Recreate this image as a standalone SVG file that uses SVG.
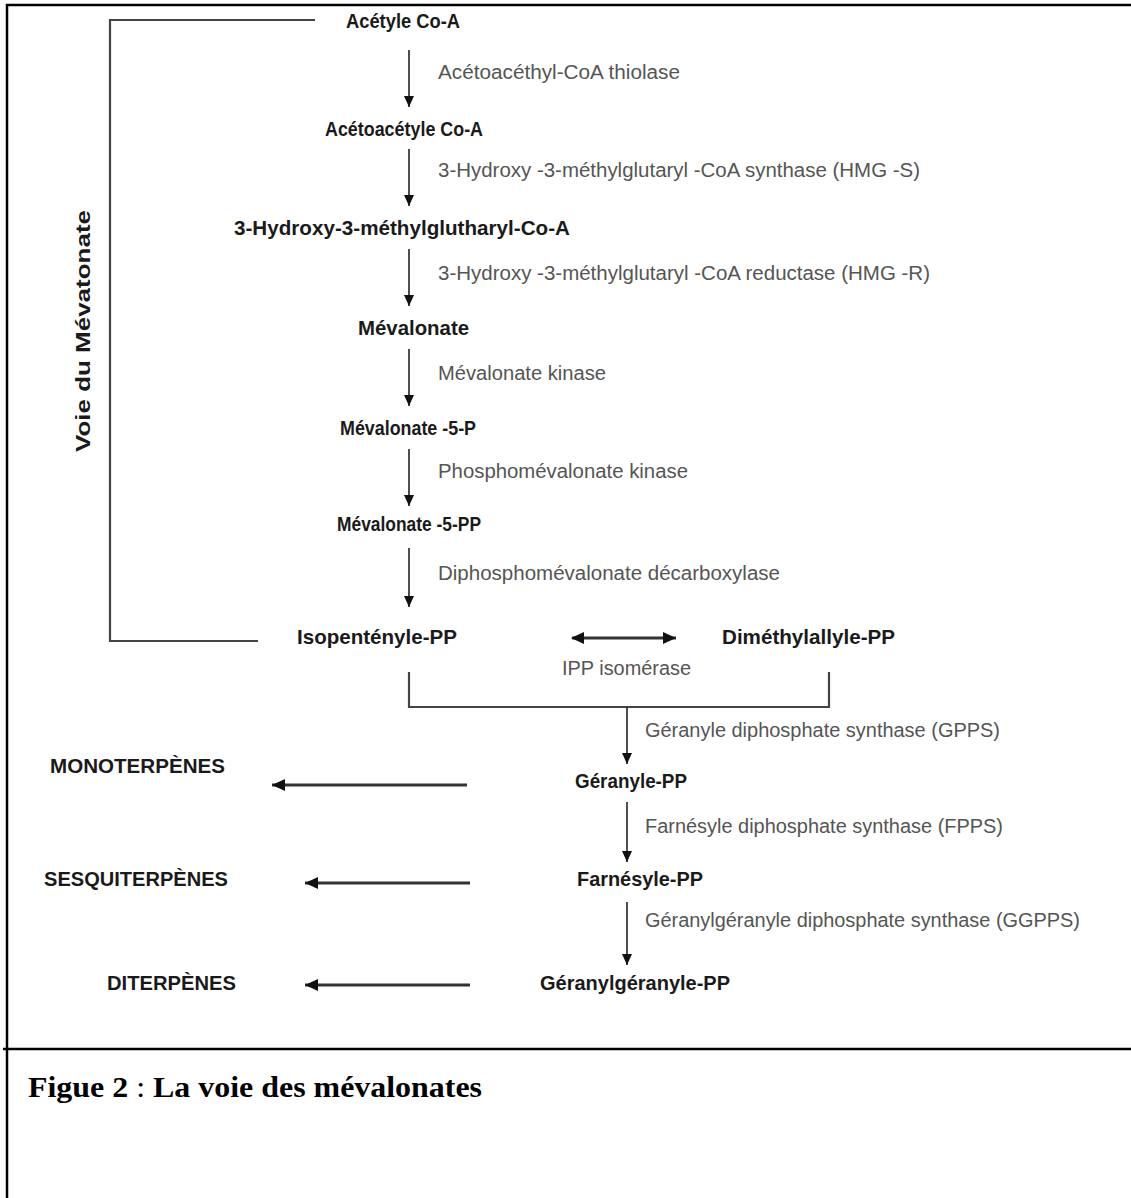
<svg xmlns="http://www.w3.org/2000/svg" width="1131" height="1198" viewBox="0 0 1131 1198">
<style>
.node{font-family:"Liberation Sans",Arial,sans-serif;font-weight:bold;font-size:21px;fill:#1a1a1a;}
.enz{font-family:"Liberation Sans",Arial,sans-serif;font-size:19.5px;fill:#555;}
.cap{font-family:"Liberation Serif","Times New Roman",serif;font-size:30px;fill:#000;}
.conn{stroke:#222;stroke-width:1.6;fill:none;}
.thick{stroke:#333;stroke-width:3;fill:none;}
.br{stroke:#444;stroke-width:2.2;fill:none;}
.frame{stroke:#000;stroke-width:2.5;fill:none;}
</style>
<defs>
<marker id="ah" markerUnits="userSpaceOnUse" markerWidth="12" markerHeight="16" refX="11" refY="5" orient="auto">
<path d="M0,0 L11,5 L0,10 z" fill="#111"/>
</marker>
<marker id="ahL" markerUnits="userSpaceOnUse" markerWidth="14" markerHeight="14" refX="13" refY="6" orient="auto">
<path d="M0,0 L13,6 L0,12 z" fill="#111"/>
</marker>
<marker id="ahS" markerUnits="userSpaceOnUse" markerWidth="14" markerHeight="14" refX="1" refY="6" orient="auto">
<path d="M13,0 L0,6 L13,12 z" fill="#111"/>
</marker>
</defs>
<rect width="1131" height="1198" fill="#fff"/>
<g id="frame">
<line class="frame" x1="6" y1="5" x2="1131" y2="5"/>
<line class="frame" x1="7" y1="4" x2="7" y2="1198"/>
<line class="frame" x1="3" y1="1049" x2="1131" y2="1049"/>
</g>
<g id="bracket">
<polyline class="br" points="315,20 110,20 110,641 258,641"/>
<text class="node" transform="translate(90,331) rotate(-90)" text-anchor="middle" font-size="18" textLength="242" lengthAdjust="spacingAndGlyphs">Voie du Mévatonate</text>
</g>
<g id="connectors">
<line class="conn" x1="409" y1="50" x2="409" y2="107" marker-end="url(#ah)"/>
<line class="conn" x1="409" y1="149" x2="409" y2="206" marker-end="url(#ah)"/>
<line class="conn" x1="409" y1="249" x2="409" y2="306" marker-end="url(#ah)"/>
<line class="conn" x1="409" y1="349" x2="409" y2="406" marker-end="url(#ah)"/>
<line class="conn" x1="409" y1="449" x2="409" y2="506" marker-end="url(#ah)"/>
<line class="conn" x1="409" y1="548" x2="409" y2="607" marker-end="url(#ah)"/>
<line class="thick" x1="572" y1="638" x2="676" y2="638" marker-start="url(#ahS)" marker-end="url(#ahL)"/>
<polyline class="br" points="409,672 409,707 829,707 829,672"/>
<line class="conn" x1="627" y1="707" x2="627" y2="764" marker-end="url(#ah)"/>
<line class="conn" x1="627" y1="802" x2="627" y2="862" marker-end="url(#ah)"/>
<line class="conn" x1="627" y1="902" x2="627" y2="965" marker-end="url(#ah)"/>
<line class="thick" x1="467" y1="785" x2="272" y2="785" marker-end="url(#ahL)"/>
<line class="thick" x1="470" y1="883" x2="305" y2="883" marker-end="url(#ahL)"/>
<line class="thick" x1="470" y1="985" x2="305" y2="985" marker-end="url(#ahL)"/>
</g>
<g id="n-acetyl"><text class="node" x="346" y="28" textLength="114" lengthAdjust="spacingAndGlyphs">Acétyle Co-A</text></g>
<g id="e-thiolase"><text class="enz" x="438" y="79" textLength="242" lengthAdjust="spacingAndGlyphs">Acétoacéthyl-CoA thiolase</text></g>
<g id="n-acetoacetyl"><text class="node" x="325" y="136" textLength="158" lengthAdjust="spacingAndGlyphs">Acétoacétyle Co-A</text></g>
<g id="e-hmgs"><text class="enz" x="438" y="177" textLength="482" lengthAdjust="spacingAndGlyphs">3-Hydroxy -3-méthylglutaryl -CoA synthase (HMG -S)</text></g>
<g id="n-hmgcoa"><text class="node" x="234" y="235" textLength="336" lengthAdjust="spacingAndGlyphs">3-Hydroxy-3-méthylglutharyl-Co-A</text></g>
<g id="e-hmgr"><text class="enz" x="438" y="280" textLength="492" lengthAdjust="spacingAndGlyphs">3-Hydroxy -3-méthylglutaryl -CoA reductase (HMG -R)</text></g>
<g id="n-mevalonate"><text class="node" x="358" y="335" textLength="111" lengthAdjust="spacingAndGlyphs">Mévalonate</text></g>
<g id="e-mk"><text class="enz" x="438" y="380" textLength="168" lengthAdjust="spacingAndGlyphs">Mévalonate kinase</text></g>
<g id="n-mev5p"><text class="node" x="340" y="435" textLength="136" lengthAdjust="spacingAndGlyphs">Mévalonate -5-P</text></g>
<g id="e-pmk"><text class="enz" x="438" y="478" textLength="250" lengthAdjust="spacingAndGlyphs">Phosphomévalonate kinase</text></g>
<g id="n-mev5pp"><text class="node" x="337" y="531" textLength="144" lengthAdjust="spacingAndGlyphs">Mévalonate -5-PP</text></g>
<g id="e-dmd"><text class="enz" x="438" y="580" textLength="342" lengthAdjust="spacingAndGlyphs">Diphosphomévalonate décarboxylase</text></g>
<g id="n-ipp"><text class="node" x="297" y="644" textLength="160" lengthAdjust="spacingAndGlyphs">Isopenténylе-PP</text></g>
<g id="n-dmapp"><text class="node" x="722" y="644" textLength="173" lengthAdjust="spacingAndGlyphs">Diméthylallyle-PP</text></g>
<g id="e-ippi"><text class="enz" x="562" y="675" textLength="129" lengthAdjust="spacingAndGlyphs">IPP isomérase</text></g>
<g id="e-gpps"><text class="enz" x="645" y="737" textLength="355" lengthAdjust="spacingAndGlyphs">Géranyle diphosphate synthase (GPPS)</text></g>
<g id="n-gpp"><text class="node" x="575" y="788" textLength="112" lengthAdjust="spacingAndGlyphs">Géranyle-PP</text></g>
<g id="n-mono"><text class="node" x="50" y="773" textLength="175" lengthAdjust="spacingAndGlyphs">MONOTERPÈNES</text></g>
<g id="e-fpps"><text class="enz" x="645" y="833" textLength="358" lengthAdjust="spacingAndGlyphs">Farnésyle diphosphate synthase (FPPS)</text></g>
<g id="n-fpp"><text class="node" x="577" y="886" textLength="126" lengthAdjust="spacingAndGlyphs">Farnésyle-PP</text></g>
<g id="n-sesqui"><text class="node" x="44" y="886" textLength="184" lengthAdjust="spacingAndGlyphs">SESQUITERPÈNES</text></g>
<g id="e-ggpps"><text class="enz" x="645" y="927" textLength="435" lengthAdjust="spacingAndGlyphs">Géranylgéranyle diphosphate synthase (GGPPS)</text></g>
<g id="n-ggpp"><text class="node" x="540" y="990" textLength="190" lengthAdjust="spacingAndGlyphs">Géranylgéranyle-PP</text></g>
<g id="n-di"><text class="node" x="107" y="990" textLength="129" lengthAdjust="spacingAndGlyphs">DITERPÈNES</text></g>
<g id="caption"><text class="cap" x="28" y="1097" textLength="454" lengthAdjust="spacingAndGlyphs"><tspan font-weight="bold">Figue 2</tspan> : <tspan font-weight="bold">La voie des mévalonates</tspan></text></g>
</svg>
